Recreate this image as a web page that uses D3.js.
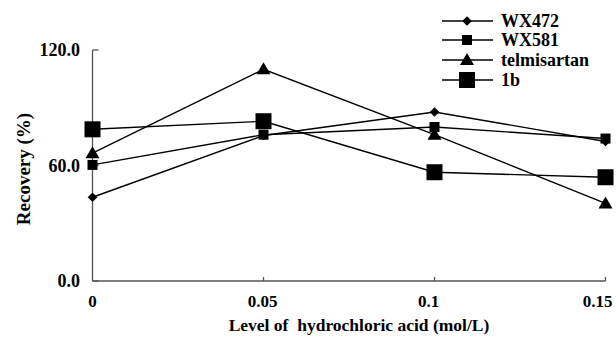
<!DOCTYPE html>
<html>
<head>
<meta charset="utf-8">
<script src="https://cdn.jsdelivr.net/npm/d3@7"></script>
<style>
  body { margin: 0; background: #fff; }
</style>
</head>
<body>
<div id="chart"></div>
<script>
// data
const levels = [0, 0.05, 0.1, 0.15];
const levelLabels = ["0", "0.05", "0.1", "0.15"];
const labelShift = [0, -1, -6, -8];
const yTicks = [0, 60, 120];
const wx472 = [43.5, 75.6, 87.8, 72.5];
const wx581 = [60.3, 76.0, 80.0, 74.0];
const telmisartan = [66.4, 110.0, 76.0, 40.3];
const b1 = [78.8, 83.0, 56.5, 53.9];
const seriesNames = ["WX472", "WX581", "telmisartan", "1b"];

const width = 616, height = 339;

const svg = d3.select("#chart").append("svg")
  .attr("width", width)
  .attr("height", height);

// every text in the chart is bold serif
function label(txt, size) {
  return svg.append("text")
    .style("font-family", "\"Liberation Serif\"")
    .style("font-weight", "bold")
    .style("font-size", size + "px")
    .text(txt);
}

const x = d3.scaleLinear().domain([0, 0.15]).range([92.5, 605.5]);
const y = d3.scaleLinear().domain([0, 120]).range([281, 50]);

// axes
const axisColor = "#555";
svg.append("line")
  .attr("x1", x(0)).attr("x2", x(0)).attr("y1", y(0)).attr("y2", y(120))
  .attr("stroke", axisColor).attr("stroke-width", 1.3);
svg.append("line")
  .attr("x1", x(0)).attr("x2", x(0.15)).attr("y1", y(0)).attr("y2", y(0))
  .attr("stroke", axisColor).attr("stroke-width", 1.3);

// y ticks point inward
yTicks.forEach(function(t) {
  svg.append("line")
    .attr("x1", x(0)).attr("x2", x(0) + 6).attr("y1", y(t)).attr("y2", y(t))
    .attr("stroke", axisColor).attr("stroke-width", 1.3);
  label(t.toFixed(1), 18)
    .attr("x", 80).attr("y", y(t) + 6)
    .attr("text-anchor", "end");
});

// x ticks point inward
levels.forEach(function(l, i) {
  if (i > 0) {
    svg.append("line")
      .attr("x1", x(l)).attr("x2", x(l)).attr("y1", y(0)).attr("y2", y(0) - 4)
      .attr("stroke", axisColor).attr("stroke-width", 1.3);
  }
  label(levelLabels[i], 17)
    .attr("x", x(l) + labelShift[i]).attr("y", 307)
    .attr("text-anchor", "middle");
});

// axis titles
label("Level of  hydrochloric acid (mol/L)", 17.5)
  .attr("x", 359).attr("y", 331)
  .attr("text-anchor", "middle")
  .style("white-space", "pre");

label("Recovery (%)", 19)
  .attr("transform", "translate(30,169) rotate(-90)")
  .attr("text-anchor", "middle");

// marker shapes
function marker(g, kind, cx, cy) {
  if (kind === "diamond") {
    g.append("path")
      .attr("d", d3.symbol().type(d3.symbolDiamond2).size(60))
      .attr("transform", "translate(" + cx + "," + cy + ")");
  } else if (kind === "square") {
    g.append("rect").attr("x", cx - 5).attr("y", cy - 5).attr("width", 10).attr("height", 10);
  } else if (kind === "triangle") {
    g.append("path")
      .attr("d", "M" + cx + "," + (cy - 7) + "L" + (cx + 7) + "," + (cy + 5) + "L" + (cx - 7) + "," + (cy + 5) + "Z");
  } else {
    g.append("rect").attr("x", cx - 8).attr("y", cy - 8).attr("width", 16).attr("height", 16);
  }
}

const series = [
  {name: seriesNames[0], values: wx472, kind: "diamond"},
  {name: seriesNames[1], values: wx581, kind: "square"},
  {name: seriesNames[2], values: telmisartan, kind: "triangle"},
  {name: seriesNames[3], values: b1, kind: "bigsquare"}
];

const line = d3.line()
  .x(function(d, i) { return x(levels[i]); })
  .y(function(d) { return y(d); });

series.forEach(function(s) {
  svg.append("path")
    .datum(s.values)
    .attr("d", line)
    .attr("fill", "none")
    .attr("stroke", "#000")
    .attr("stroke-width", 1.4);
});

series.forEach(function(s) {
  const g = svg.append("g").attr("fill", "#000");
  s.values.forEach(function(v, i) {
    marker(g, s.kind, x(levels[i]), y(v));
  });
});

// legend
const legendRows = [21, 40, 60, 80];
series.forEach(function(s, i) {
  const ly = legendRows[i];
  svg.append("line")
    .attr("x1", 442).attr("x2", 493).attr("y1", ly).attr("y2", ly)
    .attr("stroke", "#000").attr("stroke-width", 1.4);
  const g = svg.append("g").attr("fill", "#000");
  marker(g, s.kind, 467, ly);
  label(s.name, 18)
    .attr("x", 501).attr("y", ly + 6);
});
</script>
</body>
</html>
